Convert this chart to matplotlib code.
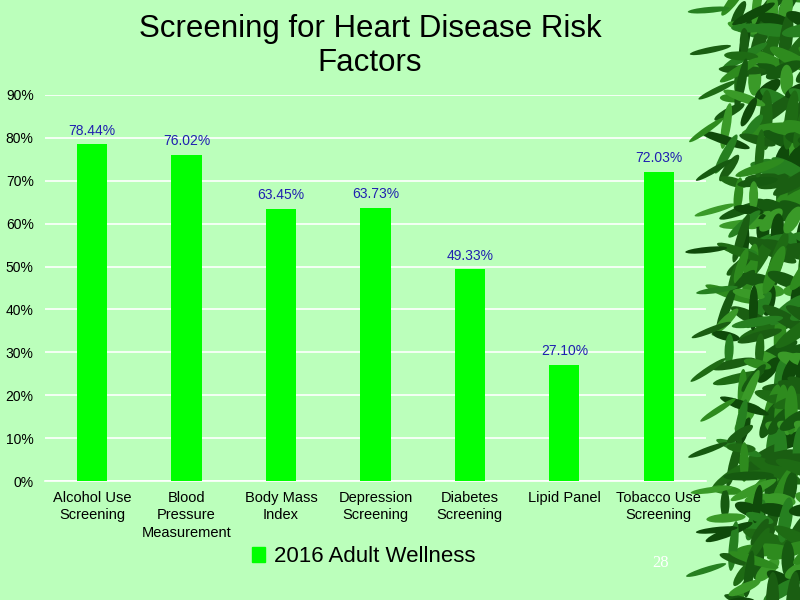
import matplotlib
matplotlib.use("Agg")
import matplotlib.pyplot as plt
import numpy as np
from matplotlib.patches import Ellipse, Patch

plt.rcParams["font.family"] = ["Liberation Sans", "DejaVu Sans"]

categories = ["Alcohol Use\nScreening", "Blood\nPressure\nMeasurement", "Body Mass\nIndex",
              "Depression\nScreening", "Diabetes\nScreening", "Lipid Panel", "Tobacco Use\nScreening"]
values = [78.44, 76.02, 63.45, 63.73, 49.33, 27.10, 72.03]
series_name = "2016 Adult Wellness"
yticks = [0, 10, 20, 30, 40, 50, 60, 70, 80, 90]

bg = "#BBFFBB"
fig = plt.figure(figsize=(8, 6), dpi=100, facecolor=bg)
ax = fig.add_axes([0.056, 0.198, 0.8265, 0.644])
ax.set_facecolor(bg)

x = np.arange(len(categories))
ax.bar(x, values, width=0.32, color="#00FF00", zorder=3, label=series_name)
for xi, v in zip(x, values):
    ax.text(xi, v + 1.6, f"{v:.2f}%", ha="center", va="bottom", color="#2020B0", fontsize=10, zorder=4)

ax.set_xlim(-0.5, len(categories) - 0.5)
ax.set_ylim(0, 90)
ax.set_yticks(yticks)
ax.set_yticklabels([f"{t}%" for t in yticks], fontsize=10)
ax.set_xticks(x)
ax.set_xticklabels(categories, fontsize=10.5, linespacing=1.3)
ax.tick_params(axis="x", length=0, pad=7)
ax.tick_params(axis="y", length=0, pad=8)
ax.yaxis.grid(True, color="white", linewidth=1.2, zorder=0)
for s in ["top", "right", "left"]:
    ax.spines[s].set_visible(False)
ax.spines["bottom"].set_color("white")
ax.spines["bottom"].set_linewidth(1.2)

fig.text(0.4625, 0.923, "Screening for Heart Disease Risk\nFactors", ha="center", va="center",
         fontsize=22.5, linespacing=1.15)

fig.legend(handles=[Patch(color="#00FF00", label=series_name)], loc="center",
           bbox_to_anchor=(0.455, 0.072), frameon=False, fontsize=16,
           handlelength=0.6, handleheight=0.6, handletextpad=0.4)

fig.text(0.826, 0.062, "28", color="white", fontsize=12, family="Liberation Serif", ha="center", va="center")

# decorative bamboo leaves on the right edge
dax = fig.add_axes([0, 0, 1, 1], zorder=10)
dax.set_xlim(0, 800)
dax.set_ylim(600, 0)
dax.axis("off")
greens = ["#1E6B14", "#2E8B1E", "#165A10", "#3A9A28", "#0F4A0A", "#268020", "#1A5E12"]
k = 0
for stem_x in [770, 790, 810]:
    for yy in range(-10, 620, 10):
        k += 1
        cx = stem_x + 10 * np.sin(yy / 37.0 + stem_x)
        ang = -30 + 60 * np.sin(k * 1.7)
        ln = 45 + 15 * np.cos(k * 0.9)
        dax.add_patch(Ellipse((cx - 10 * np.cos(k * 1.3), yy), ln, 13,
                              angle=ang, color=greens[k % len(greens)], lw=0))
for stem_x in [735, 750]:
    for yy in range(0, 610, 14):
        k += 1
        cx = stem_x + 10 * np.sin(yy / 29.0 + stem_x)
        ang = -35 + 55 * np.sin(k * 2.3)
        ln = 40 + 12 * np.cos(k * 1.1)
        dax.add_patch(Ellipse((cx, yy), ln, 9,
                              angle=ang, color=greens[k % len(greens)], lw=0))
for yy in range(10, 600, 40):
    k += 1
    dax.add_patch(Ellipse((712 + 6 * np.sin(yy), yy), 42, 6, angle=-20 + 15 * np.sin(k),
                          color=greens[k % len(greens)], lw=0))

fig.savefig("out.png", dpi=100, facecolor=bg)
